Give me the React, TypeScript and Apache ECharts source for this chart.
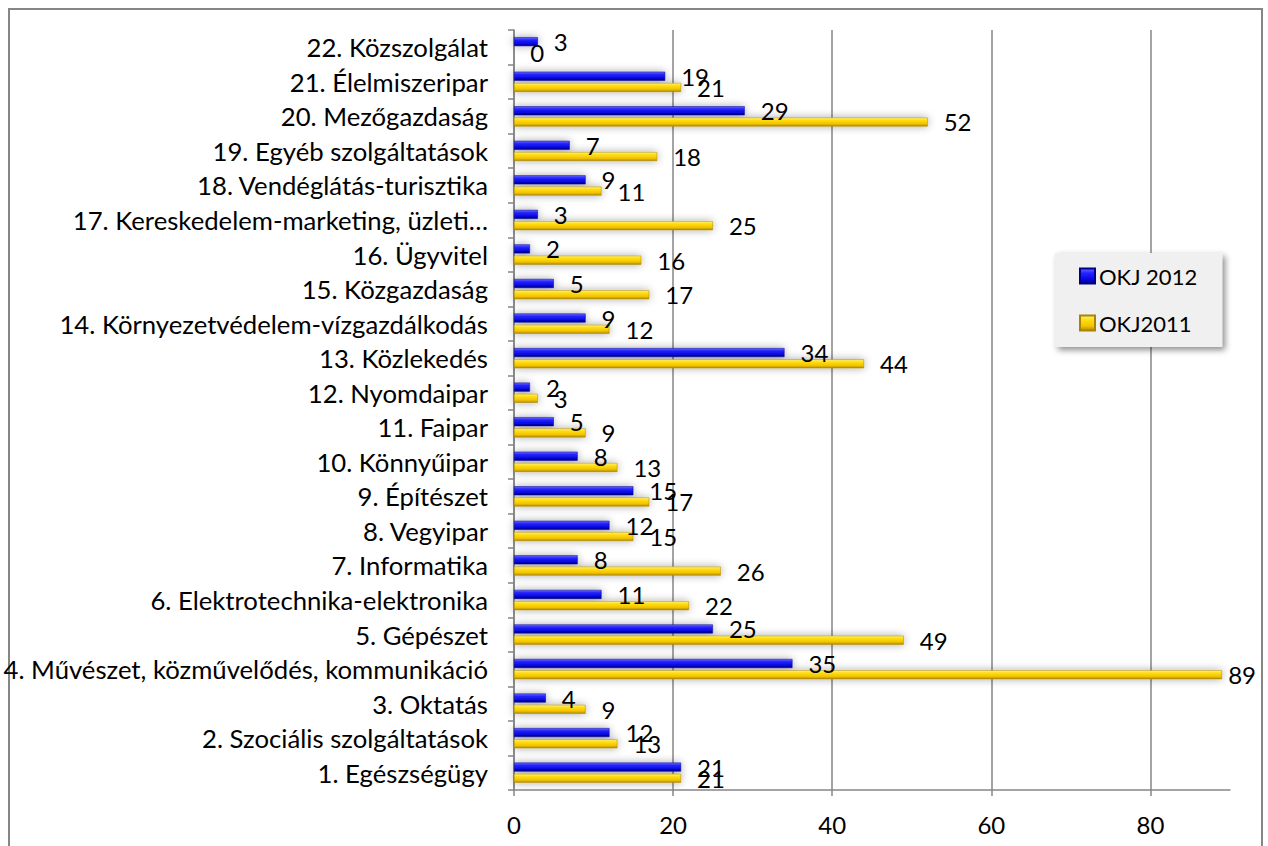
import React, { useEffect, useRef } from "react";
import * as echarts from "echarts";

const categories = [
  "1. Egészségügy",
  "2. Szociális szolgáltatások",
  "3. Oktatás",
  "4. Művészet, közművelődés, kommunikáció",
  "5. Gépészet",
  "6. Elektrotechnika-elektronika",
  "7. Informatika",
  "8. Vegyipar",
  "9. Építészet",
  "10. Könnyűipar",
  "11. Faipar",
  "12. Nyomdaipar",
  "13. Közlekedés",
  "14. Környezetvédelem-vízgazdálkodás",
  "15. Közgazdaság",
  "16. Ügyvitel",
  "17. Kereskedelem-marketing, üzleti…",
  "18. Vendéglátás-turisztika",
  "19. Egyéb szolgáltatások",
  "20. Mezőgazdaság",
  "21. Élelmiszeripar",
  "22. Közszolgálat",
];

const okj2012 = [21, 12, 4, 35, 25, 11, 8, 12, 15, 8, 5, 2, 34, 9, 5, 2, 3, 9, 7, 29, 19, 3];
const okj2011 = [21, 13, 9, 89, 49, 22, 26, 15, 17, 13, 9, 3, 44, 12, 17, 16, 25, 11, 18, 52, 21, 0];

const xTicks = [0, 20, 40, 60, 80];

const FONT = "Lato";

const blueGrad = new echarts.graphic.LinearGradient(0, 0, 0, 1, [
  { offset: 0, color: "#6a6aff" },
  { offset: 0.3, color: "#2424ff" },
  { offset: 0.7, color: "#0808e8" },
  { offset: 1, color: "#00008c" },
]);
const yellowGrad = new echarts.graphic.LinearGradient(0, 0, 0, 1, [
  { offset: 0, color: "#fff27a" },
  { offset: 0.3, color: "#ffdc10" },
  { offset: 0.7, color: "#f2c400" },
  { offset: 1, color: "#b08a00" },
]);

const RIGHT_LIMIT = 1256;
const keepInside = (params: any) => {
  const r = params.labelRect;
  if (r && r.x + r.width > RIGHT_LIMIT) {
    return {
      x: RIGHT_LIMIT - r.width,
      y: r.y + r.height / 2,
      align: "left",
      verticalAlign: "middle",
    };
  }
  return {};
};

export default function App() {
  const ref = useRef<HTMLDivElement>(null);
  useEffect(() => {
    if (!ref.current) return;
    const chart = echarts.init(ref.current, null, { renderer: "svg" });
    const labelCfg = {
      show: true,
      position: "right",
      distance: 16,
      fontFamily: FONT,
      fontSize: 24,
      color: "#000",
    };
    const shadow = {
      shadowColor: "rgba(0,0,0,0.35)",
      shadowBlur: 8,
      shadowOffsetX: 0,
      shadowOffsetY: 0,
    };
    chart.setOption({
      animation: false,
      backgroundColor: "#fff",
      textStyle: { fontFamily: FONT },
      graphic: [
        {
          type: "rect",
          z: -10,
          shape: { x: 9, y: 9, width: 1253, height: 850 },
          style: { fill: "none", stroke: "#868686", lineWidth: 2 },
        },
      ],
      grid: {
        left: 514,
        top: 30,
        width: 716,
        height: 760,
        containLabel: false,
        outerBoundsMode: "none",
      },
      legend: {
        orient: "vertical",
        left: 1055,
        top: 253,
        padding: [12, 25, 13, 24],
        itemGap: 25,
        itemWidth: 15,
        itemHeight: 15,
        icon: "rect",
        backgroundColor: "#f0f0f0",
        shadowColor: "rgba(0,0,0,0.45)",
        shadowBlur: 6,
        shadowOffsetX: 3,
        shadowOffsetY: 3,
        textStyle: { fontFamily: FONT, fontSize: 22, color: "#000", padding: [0, 0, 0, -1] },
        data: ["OKJ 2012", "OKJ2011"],
      },
      xAxis: {
        type: "value",
        min: 0,
        max: 90,
        interval: 20,
        axisLine: { show: true, lineStyle: { color: "#868686", width: 1.5 } },
        axisTick: { show: true, length: 6, customValues: xTicks, lineStyle: { color: "#868686", width: 1.5 } },
        axisLabel: {
          customValues: xTicks,
          margin: 22,
          fontFamily: FONT,
          fontSize: 24,
          color: "#000",
        },
        splitLine: { show: true, lineStyle: { color: "#868686", width: 1.5 } },
      },
      yAxis: {
        type: "category",
        data: categories,
        axisLine: { show: true, lineStyle: { color: "#868686", width: 1.5 } },
        axisTick: { show: true, length: 6, lineStyle: { color: "#868686", width: 1.5 } },
        axisLabel: { margin: 26, fontFamily: FONT, fontSize: 25.7, color: "#000" },
      },
      series: [
        {
          name: "OKJ 2012",
          type: "bar",
          data: okj2012,
          barWidth: 9,
          barGap: "25%",
          itemStyle: { color: blueGrad, borderColor: "#00008c", borderWidth: 0.5, ...shadow },
          label: labelCfg,
          labelLayout: keepInside,
        },
        {
          name: "OKJ2011",
          type: "bar",
          data: okj2011,
          barWidth: 9,
          barGap: "25%",
          itemStyle: { color: yellowGrad, borderColor: "#a88400", borderWidth: 0.5, ...shadow },
          label: labelCfg,
          labelLayout: keepInside,
        },
      ],
    });
    return () => chart.dispose();
  }, []);
  return (
    <div
      ref={ref}
      style={{ position: "absolute", left: 0, top: 0, width: 1268, height: 846 }}
    />
  );
}
